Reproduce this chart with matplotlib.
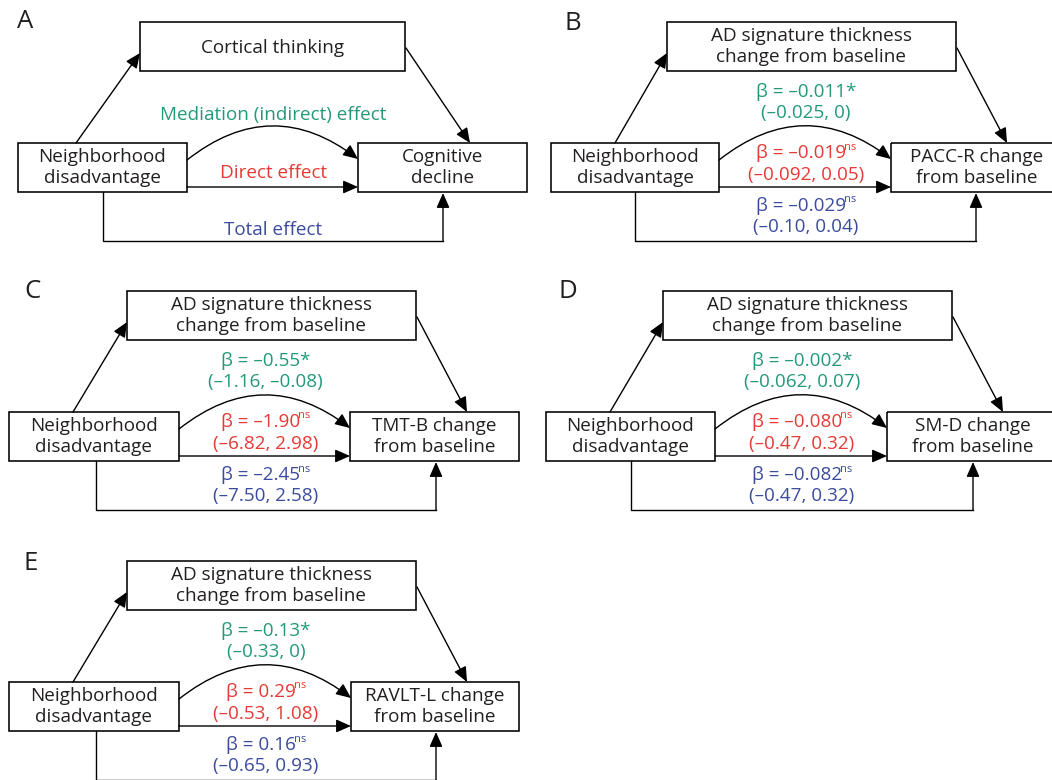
import matplotlib
matplotlib.use('Agg')
import matplotlib.pyplot as plt
from matplotlib.patches import Rectangle

plt.rcParams['font.family'] = ['Open Sans', 'DejaVu Sans']

W, H = 1052, 780
GREEN = '#23997a'
RED = '#e53a35'
BLUE = '#3b4b9e'
INK = '#231f20'

# ---------------- data ----------------
panel_labels = ['A', 'B', 'C', 'D', 'E']
exposure = ['Neighborhood', 'disadvantage']
mediator_A = ['Cortical thinking']
outcome_A = ['Cognitive', 'decline']
effect_names = ['Mediation (indirect) effect', 'Direct effect', 'Total effect']
mediator = ['AD signature thickness', 'change from baseline']
outcomes = [['PACC-R change', 'from baseline'],
            ['TMT-B change', 'from baseline'],
            ['SM-D change', 'from baseline'],
            ['RAVLT-L change', 'from baseline']]
indirect_beta = ['–0.011', '–0.55', '–0.002', '–0.13']
indirect_sig = ['*', '*', '*', '*']
indirect_ci = ['(–0.025, 0)', '(–1.16, –0.08)', '(–0.062, 0.07)', '(–0.33, 0)']
direct_beta = ['–0.019', '–1.90', '–0.080', '0.29']
direct_sig = ['ns', 'ns', 'ns', 'ns']
direct_ci = ['(–0.092, 0.05)', '(–6.82, 2.98)', '(–0.47, 0.32)', '(–0.53, 1.08)']
total_beta = ['–0.029', '–2.45', '–0.082', '0.16']
total_sig = ['ns', 'ns', 'ns', 'ns']
total_ci = ['(–0.10, 0.04)', '(–7.50, 2.58)', '(–0.47, 0.32)', '(–0.65, 0.93)']

# ---------------- layout (pixel coordinates, y downwards) ----------------
layouts = {
    'A': dict(label=(25, 22), py=22, top=(140, 405), left=(18, 187), right=(358, 527), up=76, down=470, tot=(103, 443)),
    'B': dict(label=(573, 23), py=22, top=(667, 956), left=(551, 719), right=(891, 1062), up=615, down=1007, tot=(635, 976)),
    'C': dict(label=(32, 292), py=291, top=(127, 416), left=(9, 179), right=(350, 519), up=73, down=467, tot=(96, 436)),
    'D': dict(label=(568, 292), py=291, top=(663, 952), left=(546, 715), right=(887, 1058), up=610, down=1003, tot=(631, 973)),
    'E': dict(label=(31, 563), py=561, top=(127, 416), left=(9, 179), right=(351, 519), up=73, down=467, tot=(96, 436)),
}

FS = 13.6
LW_BOX = 1.15
LW_LINE = 1.0

fig = plt.figure(figsize=(W / 100, H / 100), dpi=100)
ax = fig.add_axes([0, 0, 1, 1])
ax.set_xlim(0, W)
ax.set_ylim(H, 0)
ax.axis('off')
renderer = fig.canvas.get_renderer()


def box(x0, x1, y0, y1):
    ax.add_patch(Rectangle((x0, y0), x1 - x0, y1 - y0, fill=False, ec='black', lw=LW_BOX))


def lines_in_box(lines, xc, baselines, color=INK):
    for s, yb in zip(lines, baselines):
        ax.text(xc, yb, s, ha='center', va='baseline', fontsize=FS, color=color)


def arrow(p0, p1, rad=0.0):
    ax.annotate('', xy=p1, xytext=p0,
                arrowprops=dict(arrowstyle='-|>,head_length=0.5,head_width=0.22', mutation_scale=18,
                                lw=LW_LINE, color='black', shrinkA=0, shrinkB=0,
                                connectionstyle=f'arc3,rad={rad}'))


def beta_text(xc, yb, value, sig, color):
    main = 'β = ' + value + (sig if sig == '*' else '')
    t = ax.text(0, yb, main, ha='left', va='baseline', fontsize=FS, color=color)
    w_main = t.get_window_extent(renderer).width
    if sig == 'ns':
        s = ax.text(0, yb - 8.5, 'ns', ha='left', va='baseline', fontsize=8, color=color)
        w_sup = s.get_window_extent(renderer).width
        gap = -2
        total = w_main + gap + w_sup
        x0 = xc - total / 2
        t.set_x(x0)
        s.set_x(x0 + w_main + gap)
    else:
        t.set_x(xc - w_main / 2)


def skeleton(key, L):
    py = L['py']
    tx0, tx1 = L['top']
    lx0, lx1 = L['left']
    rx0, rx1 = L['right']
    box(tx0, tx1, py, py + 49)
    box(lx0, lx1, py + 121, py + 170)
    box(rx0, rx1, py + 121, py + 170)
    # arrows
    arrow((L['up'], py + 121), (tx0, py + 31))
    arrow((tx1 + 1, py + 26), (L['down'], py + 121))
    arrow((lx1, py + 138), (rx0, py + 137), rad=-0.39)
    arrow((lx1, py + 165), (rx0, py + 165))
    t0, t1 = L['tot']
    ax.plot([t0, t0, t1], [py + 170, py + 219, py + 219], color='black', lw=LW_LINE,
            solid_joinstyle='miter')
    arrow((t1, py + 219), (t1, py + 171))
    # exposure text
    lines_in_box(exposure, (lx0 + lx1) / 2, [py + 140, py + 161])
    ax.text(*L['label'], key, ha='center', va='center', fontsize=18.5, color=INK)


for key in panel_labels:
    L = layouts[key]
    skeleton(key, L)
    py = L['py']
    tx0, tx1 = L['top']
    lx0, lx1 = L['left']
    rx0, rx1 = L['right']
    xm = (lx1 + rx0) / 2 + 1
    if key == 'A':
        lines_in_box(mediator_A, (tx0 + tx1) / 2, [py + 31])
        lines_in_box(outcome_A, (rx0 + rx1) / 2, [py + 140, py + 161])
        cols = [GREEN, RED, BLUE]
        ys = [py + 98, py + 156, py + 213]
        for name, c, yb in zip(effect_names, cols, ys):
            ax.text(xm, yb, name, ha='center', va='baseline', fontsize=FS, color=c)
    else:
        i = panel_labels.index(key) - 1
        lines_in_box(mediator, (tx0 + tx1) / 2, [py + 19, py + 40])
        lines_in_box(outcomes[i], (rx0 + rx1) / 2, [py + 140, py + 161])
        beta_text(xm, py + 75, indirect_beta[i], indirect_sig[i], GREEN)
        ax.text(xm, py + 96, indirect_ci[i], ha='center', va='baseline', fontsize=FS, color=GREEN)
        beta_text(xm, py + 136, direct_beta[i], direct_sig[i], RED)
        ax.text(xm, py + 158, direct_ci[i], ha='center', va='baseline', fontsize=FS, color=RED)
        beta_text(xm, py + 189, total_beta[i], total_sig[i], BLUE)
        ax.text(xm, py + 210, total_ci[i], ha='center', va='baseline', fontsize=FS, color=BLUE)

fig.savefig('out.png', dpi=100)
